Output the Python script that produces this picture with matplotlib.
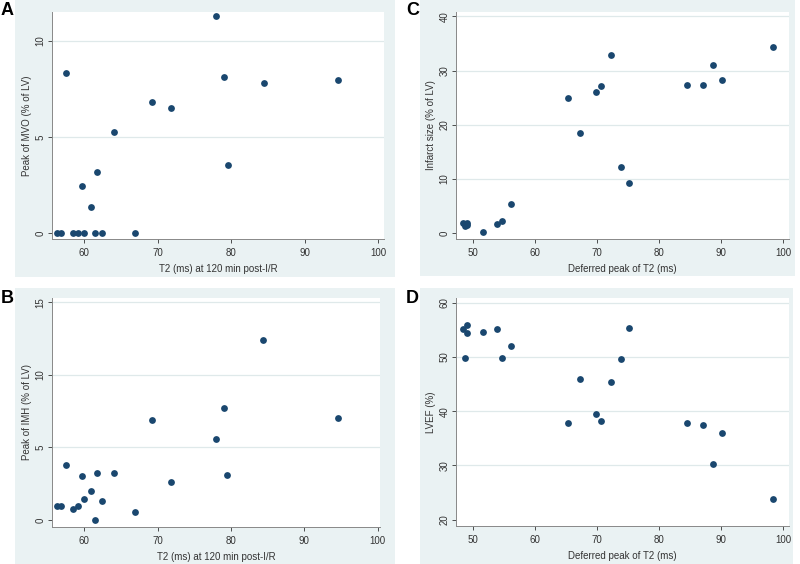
import matplotlib.pyplot as plt
from matplotlib.patches import Rectangle

plt.rcParams['font.family'] = ['Liberation Sans', 'DejaVu Sans']

# T2 at 120 min post-I/R (panels A and B)
t2_early = [56.3, 56.8, 57.5, 58.4, 59.1, 59.7, 60.0, 60.9, 61.5, 61.7,
            62.4, 64.0, 66.9, 69.2, 71.8, 77.9, 79.0, 79.5, 84.4, 94.6]
mvo = [0, 0, 8.35, 0, 0, 2.43, 0, 1.35, 0, 3.2,
       0, 5.25, 0, 6.83, 6.52, 11.28, 8.13, 3.57, 7.82, 7.94]
imh = [0.94, 0.99, 3.78, 0.78, 0.99, 3.0, 1.45, 2.0, 0, 3.27,
       1.34, 3.27, 0.53, 6.87, 2.6, 5.55, 7.74, 3.09, 12.42, 7.0]

# deferred peak of T2 (panels C and D)
t2_peak = [48.4, 48.8, 49.1, 49.1, 51.7, 53.9, 54.7, 56.2, 65.3, 67.3,
           69.8, 70.7, 72.2, 73.8, 75.2, 84.5, 87.0, 88.6, 90.1, 98.3]
infarct = [1.9, 1.3, 1.9, 1.6, 0.2, 1.8, 2.3, 5.4, 25.0, 18.5,
           26.0, 27.2, 32.8, 12.3, 9.3, 27.3, 27.4, 31.0, 28.3, 34.4]
lvef = [55.2, 49.9, 56.0, 54.4, 54.6, 55.1, 49.9, 52.1, 37.8, 45.9,
        39.4, 38.2, 45.3, 49.6, 55.3, 37.8, 37.5, 30.2, 35.9, 23.7]

W, H = 800, 564
bg = '#eaf2f3'
navy = '#1a476f'
grid = '#dfe9ea'

fig = plt.figure(figsize=(8, 5.64), dpi=100)


def box(x0, y0, x1, y1):
    # pixel box (top-left origin) -> figure fraction
    return [x0 / W, 1 - y1 / H, (x1 - x0) / W, (y1 - y0) / H]


def panel(letter, bgbox, axbox, x, y, xlim, ylim, xticks, yticks, xlabel, ylabel):
    b = box(*bgbox)
    fig.patches.append(Rectangle((b[0], b[1]), b[2], b[3], transform=fig.transFigure,
                                 facecolor=bg, edgecolor='none', zorder=-10))
    fig.text((bgbox[0] - 14) / W, 1 - (bgbox[1] + 2) / H, letter, fontsize=13,
             fontweight='bold', va='top', ha='left', zorder=5)
    ax = fig.add_axes(box(*axbox))
    ax.set_zorder(2)
    ax.set_facecolor('white')
    for t in yticks[1:]:
        ax.axhline(t, color=grid, lw=0.9, zorder=1)
    ax.scatter(x, y, s=24, color=navy, zorder=3, linewidths=0)
    ax.set_xlim(*xlim)
    ax.set_ylim(*ylim)
    ax.set_xticks(xticks)
    ax.set_yticks(yticks)
    ax.tick_params(labelsize=7, colors='#333333', length=3, width=0.6)
    ax.tick_params(axis='y', labelrotation=90, pad=1.5)
    for lbl in ax.get_yticklabels():
        lbl.set_va('center')
    for s in ['top', 'right']:
        ax.spines[s].set_visible(False)
    for s in ['left', 'bottom']:
        ax.spines[s].set_color('#888888')
        ax.spines[s].set_linewidth(0.7)
    ax.set_xlabel(xlabel, fontsize=7, color='#333333', labelpad=4)
    ax.set_ylabel(ylabel, fontsize=7, color='#333333', labelpad=3)
    return ax


panel('A', (15, 0, 395, 277), (52, 12, 384, 239), t2_early, mvo,
      (55.6, 100.8), (-0.3, 11.5), [60, 70, 80, 90, 100], [0, 5, 10],
      'T2 (ms) at 120 min post-I/R', 'Peak of MVO (% of LV)')
panel('B', (15, 288, 395, 564), (52, 298, 380, 527), t2_early, imh,
      (55.6, 100.3), (-0.48, 15.3), [60, 70, 80, 90, 100], [0, 5, 10, 15],
      'T2 (ms) at 120 min post-I/R', 'Peak of IMH (% of LV)')
panel('C', (420, 0, 795, 276), (456, 12, 789, 239), t2_peak, infarct,
      (47.3, 100.9), (-1.04, 40.8), [50, 60, 70, 80, 90, 100], [0, 10, 20, 30, 40],
      'Deferred peak of T2 (ms)', 'Infarct size (% of LV)')
panel('D', (420, 288, 793, 564), (456, 298, 789, 526), t2_peak, lvef,
      (47.3, 100.9), (18.8, 60.9), [50, 60, 70, 80, 90, 100], [20, 30, 40, 50, 60],
      'Deferred peak of T2 (ms)', 'LVEF (%)')

fig.savefig('out.png', dpi=100)
